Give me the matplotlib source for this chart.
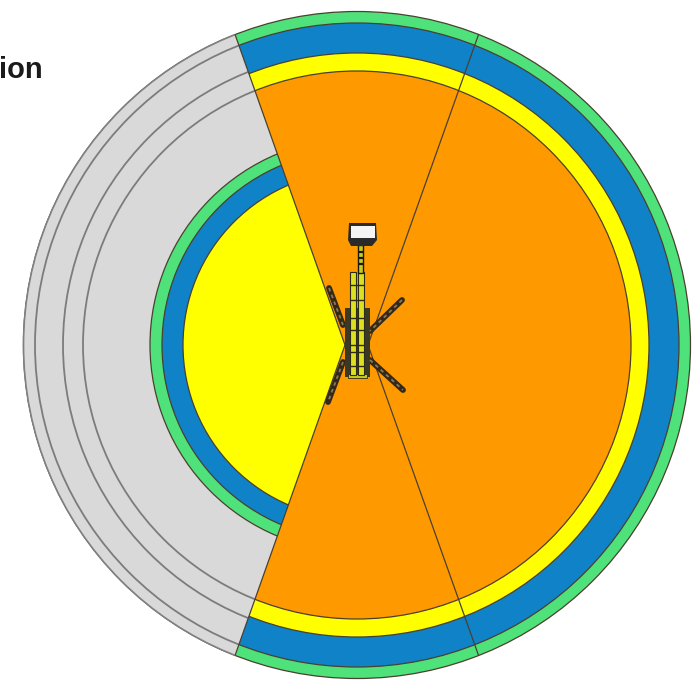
import numpy as np
import matplotlib
matplotlib.use('Agg')
import matplotlib.pyplot as plt
from matplotlib.patches import Circle, Wedge, Rectangle, Polygon

# reach bands, from the picture (pixels from the machine centre)
band_radii = [333.5, 322, 292, 274]
band_colors = ['#4fe27a', '#0f82c8', '#ffff00', '#ff9900']
side_radii = [207, 195, 174]
side_colors = ['#4fe27a', '#0f82c8', '#ffff00']
ring_radii = [322, 294, 274]

center = (357, 345)
left_apex = (345, 345)
right_apex = (368, 345)
left_half_angle = 70.5
right_half_angle = 70.4

# machine outline
legs = [[(329, 288), (343, 325)], [(402, 300), (370, 331)],
        [(343, 362), (328, 402)], [(370, 360), (403, 390)]]
mast_marks = [285, 300, 318, 330, 345, 352, 366]
neck_marks = [252, 258, 264]
edge = '#4a4030'

fig = plt.figure(figsize=(6.99, 6.86), dpi=100)
ax = fig.add_axes([0, 0, 1, 1])
ax.set_xlim(0, 699)
ax.set_ylim(686, 0)
ax.axis('off')

# full bands
for r, c in zip(band_radii, band_colors):
    ax.add_patch(Circle(center, r, fc=c, ec=edge, lw=0.9, zorder=2))
outer = Circle(center, band_radii[0], transform=ax.transData)

# grey side, cut by the left wedge
cut = Wedge(left_apex, 450, 180 - left_half_angle, 180 + left_half_angle, transform=ax.transData)
p = Circle(center, band_radii[0], fc='#d9d9d9', ec='#808080', lw=1.2, zorder=3)
ax.add_patch(p)
p.set_clip_path(cut)
for r in ring_radii:
    p = Circle(center, r, fc='none', ec='#7c7c7c', lw=1.3, zorder=4)
    ax.add_patch(p)
    p.set_clip_path(cut)
for r, c in zip(side_radii, side_colors):
    p = Circle(center, r, fc=c, ec=edge, lw=0.9, zorder=5)
    ax.add_patch(p)
    p.set_clip_path(cut)

# sector lines
for apex, a in [(left_apex, 180 - left_half_angle), (left_apex, 180 + left_half_angle),
                (right_apex, right_half_angle), (right_apex, -right_half_angle)]:
    t = np.radians(a)
    ln, = ax.plot([apex[0], apex[0] + 450 * np.cos(t)], [apex[1], apex[1] + 450 * np.sin(t)],
                  color=edge, lw=0.9, zorder=6)
    ln.set_clip_path(outer)

# machine
for leg in legs:
    xs, ys = zip(*leg)
    ax.plot(xs, ys, color='#33281a', lw=4.2, solid_capstyle='round', zorder=7)
    ax.plot(xs, ys, color='#8a7a55', lw=1.3, ls=(0, (2, 2)), zorder=8)
ax.add_patch(Rectangle((345, 308), 25, 69, fc='#3a3a22', ec='none', zorder=7))
ax.add_patch(Rectangle((348, 374), 19, 4, fc='#c8c820', ec='#2e2a18', lw=0.6, zorder=8))
ax.add_patch(Rectangle((350, 272), 6, 103, fc='#dde020', ec='#2e2a18', lw=0.8, zorder=8))
ax.add_patch(Rectangle((357.5, 272), 6, 103, fc='#dde020', ec='#2e2a18', lw=0.8, zorder=8))
ax.add_patch(Rectangle((358, 245), 4.5, 28, fc='#c8cc20', ec='#1a1a10', lw=1.0, zorder=8))
ax.hlines(neck_marks, 357.5, 363, color='#1a1a10', lw=1.6, zorder=9)
ax.hlines(mast_marks, 350, 364, color='#2e2a18', lw=1.0, zorder=9)
ax.add_patch(Polygon([(349, 223), (376, 223), (377, 240), (372, 246), (351, 246), (348, 240)],
                     fc='#2a2a2a', ec='none', zorder=8))
ax.add_patch(Rectangle((350.5, 226), 24, 12, fc='#f4f4f4', ec='none', zorder=9))

ax.text(-1, 78, 'ion', fontsize=21, fontweight='bold', family='Liberation Sans',
        color='#1a1a1a', va='baseline', ha='left')

fig.savefig('out.png', dpi=100)
